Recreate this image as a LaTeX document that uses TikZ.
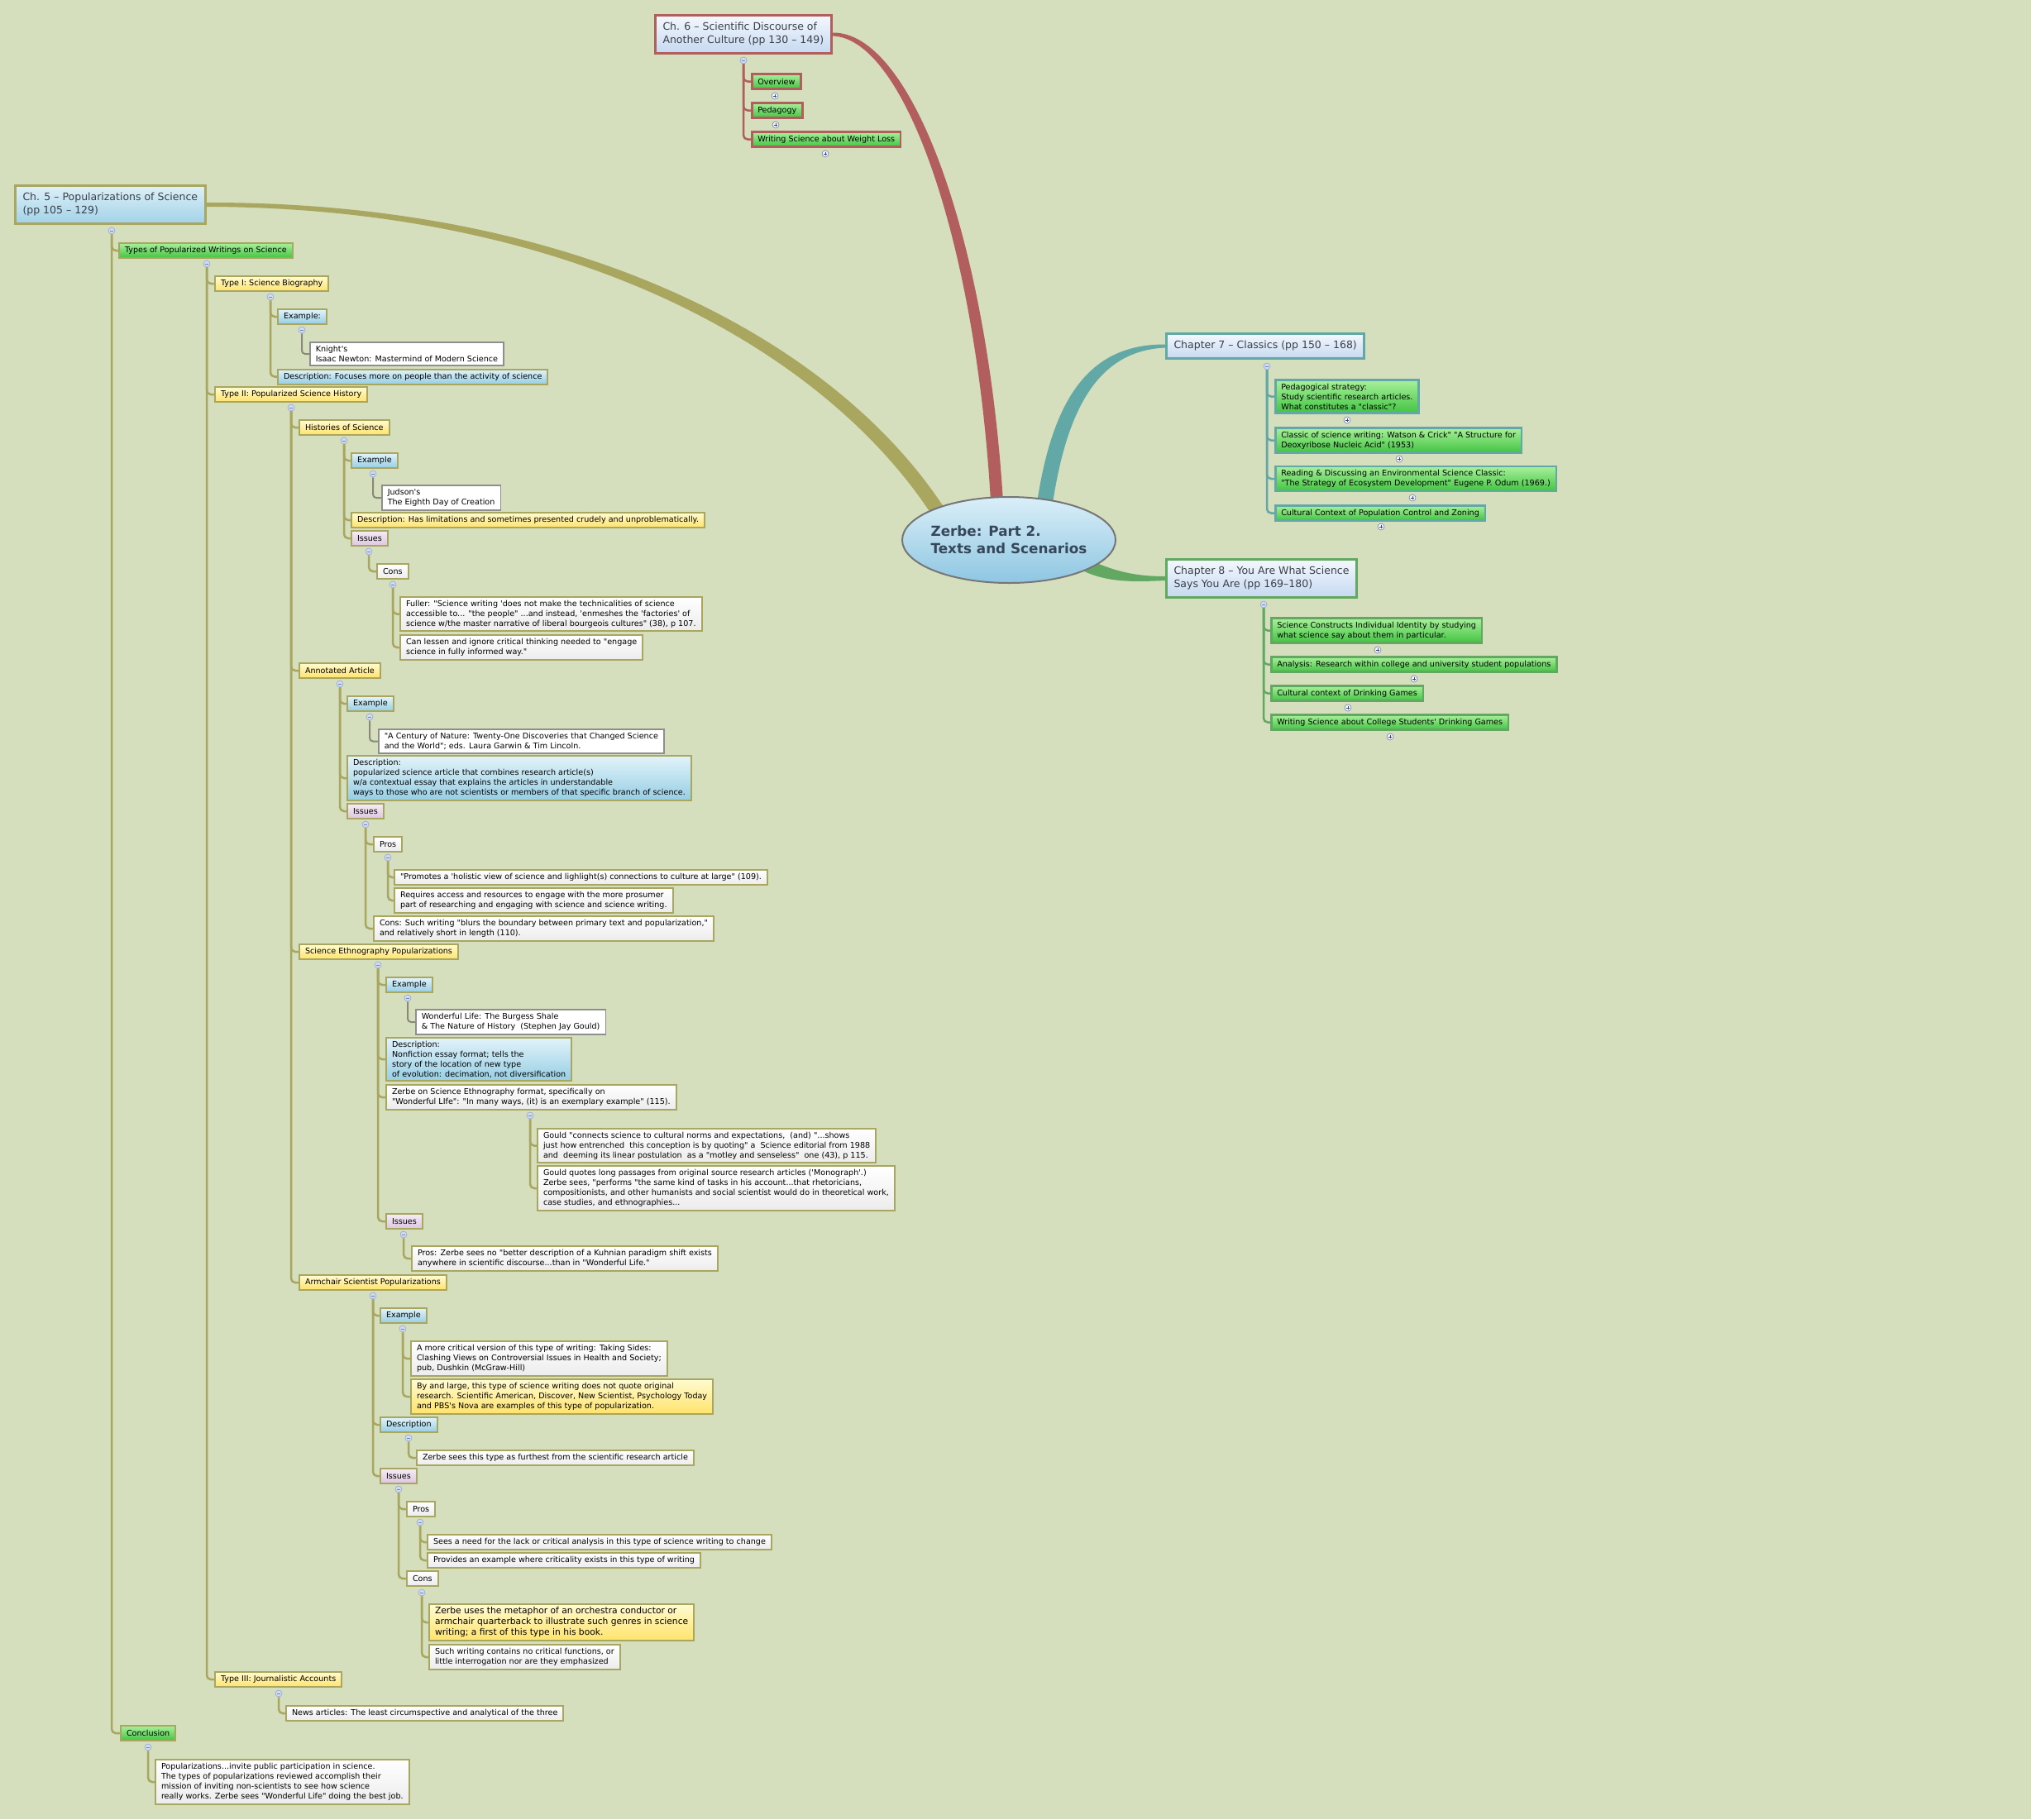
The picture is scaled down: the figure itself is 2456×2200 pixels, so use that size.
\documentclass[tikz,border=0pt]{standalone}
\usepackage{fontspec}
\newfontfamily\dv{DejaVu Sans}
\usetikzlibrary{shapes.geometric,calc}
\pgfdeclarelayer{bg}
\pgfdeclarelayer{lines}
\pgfsetlayers{bg,lines,main}
\definecolor{bgc}{HTML}{D5DFBD}
\definecolor{olv}{HTML}{A9A65F}
\definecolor{red6}{HTML}{B25E5E}
\definecolor{teal7}{HTML}{62A8A6}
\definecolor{grn8}{HTML}{62A862}
\definecolor{gryb}{HTML}{8E8E8E}
\definecolor{gryc}{HTML}{878A76}
\definecolor{gtop}{HTML}{A8F09A}
\definecolor{gbot}{HTML}{42C442}
\definecolor{ytop}{HTML}{FFFBD2}
\definecolor{ybot}{HTML}{FFE36A}
\definecolor{btop}{HTML}{E2F3FA}
\definecolor{bbot}{HTML}{96CEE4}
\definecolor{ptop}{HTML}{F5ECF5}
\definecolor{pbot}{HTML}{DCC6E0}
\definecolor{wbot}{HTML}{ECECEC}
\definecolor{chtop}{HTML}{F4F8FE}
\definecolor{chbot}{HTML}{C6D9F0}
\definecolor{cvtop}{HTML}{DDF0F8}
\definecolor{cvbot}{HTML}{A2D2E8}
\definecolor{chtext}{HTML}{3A4048}
\definecolor{roottext}{HTML}{37475A}
\definecolor{rtop}{HTML}{DAEFF8}
\definecolor{rbot}{HTML}{8EC6E2}
\definecolor{rborder}{HTML}{767676}
\definecolor{mfill}{HTML}{D0DAF0}
\definecolor{mdraw}{HTML}{94A6D2}
\definecolor{mline}{HTML}{6F86BE}
\definecolor{pfill}{HTML}{F4F6FA}
\definecolor{pdraw}{HTML}{6E7FB0}
\definecolor{pline}{HTML}{3A4A80}
\begin{document}
\begin{tikzpicture}[x=1pt,y=-1pt,
  box/.style={draw=olv, line width=2pt, align=left, anchor=west, inner xsep=7pt, inner ysep=4.2pt, minimum height=18pt, font=\dv\fontsize{9.6}{12}\selectfont, text=black},
  gbox/.style={box, top color=gtop, bottom color=gbot},
  ybox/.style={box, top color=ytop, bottom color=ybot},
  bbox/.style={box, top color=btop, bottom color=bbot},
  pbox/.style={box, top color=ptop, bottom color=pbot},
  wbox/.style={box, top color=white, bottom color=wbot},
  xbox/.style={box, fill=white, draw=gryb, line width=1.5pt},
  bigtext/.style={font=\dv\fontsize{10.7}{13}\selectfont},
  chap/.style={draw, line width=3pt, align=left, anchor=west, inner xsep=9pt, inner ysep=8.7pt, font=\dv\fontsize{12.5}{16}\selectfont, text=chtext, top color=chtop, bottom color=chbot},
  root/.style={ellipse, draw=rborder, line width=2pt, top color=rtop, bottom color=rbot, minimum width=258pt, minimum height=104pt, inner xsep=-4pt, inner ysep=0pt, align=left, font=\dv\bfseries\fontsize{16.8}{21}\selectfont, text=roottext},
  mcirc/.style={circle, line width=0.6pt, minimum size=8pt, inner sep=0pt},
  minus/.style={mcirc, draw=mdraw, fill=mfill, path picture={\draw[mline, line width=0.9pt] ([xshift=-2.2pt]path picture bounding box.center) -- ([xshift=2.2pt]path picture bounding box.center);}},
  plus/.style={mcirc, draw=pdraw, fill=pfill, path picture={\draw[pline, line width=0.7pt] ([xshift=-2.2pt]path picture bounding box.center) -- ([xshift=2.2pt]path picture bounding box.center) ([yshift=-2.2pt]path picture bounding box.center) -- ([yshift=2.2pt]path picture bounding box.center);}},
  l5/.style={draw=olv, line width=2.5pt, rounded corners=5pt},
  lg/.style={draw=gryc, line width=2pt, rounded corners=4pt},
  l6/.style={draw=red6, line width=2.5pt, rounded corners=5pt},
  l7/.style={draw=teal7, line width=2.5pt, rounded corners=5pt},
  l8/.style={draw=grn8, line width=2.5pt, rounded corners=5pt}
]
\useasboundingbox (0,0) rectangle (2456,2200);
\begin{pgfonlayer}{bg}
\fill[bgc] (0,0) rectangle (2456,2200);
\end{pgfonlayer}

% ---------- root ----------
\node[root] (root) at (1220,653) {Zerbe: Part 2.\\Texts and Scenarios};

% ---------- chapter 6 ----------
\node[chap, draw=red6] (ch6) at (791,41.5) {Ch. 6 – Scientific Discourse of\\Another Culture (pp 130 – 149)};
\node[gbox, draw=red6, line width=2.5pt] (c6a) at (908,98.5) {Overview};
\node[gbox, draw=red6, line width=2.5pt] (c6b) at (908,133.5) {Pedagogy};
\node[gbox, draw=red6, line width=2.5pt] (c6c) at (908,168.5) {Writing Science about Weight Loss};
\node[minus] (m6) at (899,73) {};
\node[plus] (p6a) at (937,116) {};
\node[plus] (p6b) at (938,151) {};
\node[plus] (p6c) at (998,186) {};

% ---------- chapter 7 ----------
\node[chap, draw=teal7] (ch7) at (1409,418.5) {Chapter 7 – Classics (pp 150 – 168)};
\node[gbox, draw=teal7, line width=2.5pt] (c7a) at (1541,479.5) {Pedagogical strategy:\\Study scientific research articles.\\What constitutes a "classic"?};
\node[gbox, draw=teal7, line width=2.5pt] (c7b) at (1541,532.5) {Classic of science writing: Watson \& Crick" "A Structure for\\Deoxyribose Nucleic Acid" (1953)};
\node[gbox, draw=teal7, line width=2.5pt] (c7c) at (1541,579) {Reading \& Discussing an Environmental Science Classic:\\"The Strategy of Ecosystem Development" Eugene P. Odum (1969.)};
\node[gbox, draw=teal7, line width=2.5pt] (c7d) at (1541,620.5) {Cultural Context of Population Control and Zoning};
\node[minus] (m7) at (1532,443) {};
\node[plus] (p7a) at (1629,508) {};
\node[plus] (p7b) at (1692,555) {};
\node[plus] (p7c) at (1708,602) {};
\node[plus] (p7d) at (1670,637) {};

% ---------- chapter 8 ----------
\node[chap, draw=grn8] (ch8) at (1409,699.5) {Chapter 8 – You Are What Science\\Says You Are (pp 169–180)};
\node[gbox, draw=grn8, line width=2.5pt] (c8a) at (1536,762.5) {Science Constructs Individual Identity by studying\\what science say about them in particular.};
\node[gbox, draw=grn8, line width=2.5pt] (c8b) at (1536,803.5) {Analysis: Research within college and university student populations};
\node[gbox, draw=grn8, line width=2.5pt] (c8c) at (1536,838.5) {Cultural context of Drinking Games};
\node[gbox, draw=grn8, line width=2.5pt] (c8d) at (1536,873.5) {Writing Science about College Students' Drinking Games};
\node[minus] (m8) at (1528,731) {};
\node[plus] (p8a) at (1666,786) {};
\node[plus] (p8b) at (1710,821) {};
\node[plus] (p8c) at (1630,856) {};
\node[plus] (p8d) at (1681,891) {};

% ---------- chapter 5 ----------
\node[chap, draw=olv, top color=cvtop, bottom color=cvbot] (ch5) at (17,247.5) {Ch. 5 – Popularizations of Science\\(pp 105 – 129)};
\node[gbox] (types) at (143,303) {Types of Popularized Writings on Science};
\node[ybox] (t1) at (259,343) {Type I: Science Biography};
\node[bbox] (t1ex) at (335,383) {Example:};
\node[xbox] (knight) at (374,428) {Knight's\\Isaac Newton: Mastermind of Modern Science};
\node[bbox] (t1desc) at (335,455.5) {Description: Focuses more on people than the activity of science};
\node[ybox] (t2) at (259,477) {Type II: Popularized Science History};
\node[ybox] (hist) at (361,517) {Histories of Science};
\node[bbox] (hex) at (424,557) {Example};
\node[xbox] (judson) at (461,602) {Judson's\\The Eighth Day of Creation};
\node[ybox] (hdesc) at (424,629) {Description: Has limitations and sometimes presented crudely and unproblematically.};
\node[pbox] (hiss) at (424,651) {Issues};
\node[wbox] (hcons) at (455,691) {Cons};
\node[wbox] (fuller) at (483,742.5) {Fuller: "Science writing 'does not make the technicalities of science\\accessible to... "the people" ...and instead, 'enmeshes the 'factories' of\\science w/the master narrative of liberal bourgeois cultures" (38), p 107.};
\node[wbox] (lessen) at (483,783) {Can lessen and ignore critical thinking needed to "engage\\science in fully informed way."};
\node[ybox] (annot) at (361,811) {Annotated Article};
\node[bbox] (aex) at (419,851) {Example};
\node[xbox] (century) at (457,896.5) {"A Century of Nature: Twenty-One Discoveries that Changed Science\\and the World"; eds. Laura Garwin \& Tim Lincoln.};
\node[bbox] (adesc) at (419,941) {Description:\\popularized science article that combines research article(s)\\w/a contextual essay that explains the articles in understandable\\ways to those who are not scientists or members of that specific branch of science.};
\node[pbox] (aiss) at (419,981) {Issues};
\node[wbox] (apros) at (451,1021) {Pros};
\node[wbox] (promotes) at (476,1061) {"Promotes a 'holistic view of science and lighlight(s) connections to culture at large" (109).};
\node[wbox] (requires) at (476,1089) {Requires access and resources to engage with the more prosumer\\part of researching and engaging with science and science writing.};
\node[wbox] (acons) at (451,1123) {Cons: Such writing "blurs the boundary between primary text and popularization,"\\and relatively short in length (110).};
\node[ybox] (ethno) at (361,1151) {Science Ethnography Popularizations};
\node[bbox] (eex) at (466,1191) {Example};
\node[xbox] (wonder) at (502,1236) {Wonderful Life: The Burgess Shale\\\& The Nature of History\ \ (Stephen Jay Gould)};
\node[bbox] (edesc) at (466,1281) {Description:\\Nonfiction essay format; tells the\\story of the location of new type\\of evolution: decimation, not diversification};
\node[wbox] (ezerbe) at (466,1327) {Zerbe on Science Ethnography format, specifically on\\"Wonderful LIfe": "In many ways, (it) is an exemplary example" (115).};
\node[wbox] (gould1) at (649,1385.5) {Gould "connects science to cultural norms and expectations,\ \ (and) "...shows\\just how entrenched\ \ this conception is by quoting" a\ \ Science editorial from 1988\\and\ \ deeming its linear postulation\ \ as a "motley and senseless"\ \ one (43), p 115.};
\node[wbox] (gould2) at (649,1437) {Gould quotes long passages from original source research articles ('Monograph'.)\\Zerbe sees, "performs "the same kind of tasks in his account...that rhetoricians,\\compositionists, and other humanists and social scientist would do in theoretical work,\\case studies, and ethnographies...};
\node[pbox] (eiss) at (466,1477) {Issues};
\node[wbox] (epros) at (497,1522) {Pros: Zerbe sees no "better description of a Kuhnian paradigm shift exists\\anywhere in scientific discourse...than in "Wonderful Life."};
\node[ybox] (arm) at (361,1551) {Armchair Scientist Popularizations};
\node[bbox] (armex) at (459,1591) {Example};
\node[wbox] (critical) at (496,1643) {A more critical version of this type of writing: Taking Sides:\\Clashing Views on Controversial Issues in Health and Society;\\pub, Dushkin (McGraw-Hill)};
\node[ybox] (bylarge) at (496,1689) {By and large, this type of science writing does not quote original\\research. Scientific American, Discover, New Scientist, Psychology Today\\and PBS's Nova are examples of this type of popularization.};
\node[bbox] (armdesc) at (459,1723) {Description};
\node[wbox] (furthest) at (503,1763) {Zerbe sees this type as furthest from the scientific research article};
\node[pbox] (armiss) at (459,1785) {Issues};
\node[wbox] (armpros) at (491,1825) {Pros};
\node[wbox] (need) at (516,1865) {Sees a need for the lack or critical analysis in this type of science writing to change};
\node[wbox] (provides) at (516,1887) {Provides an example where criticality exists in this type of writing};
\node[wbox] (armcons) at (491,1909) {Cons};
\node[ybox, bigtext] (metaphor) at (518,1962) {Zerbe uses the metaphor of an orchestra conductor or\\armchair quarterback to illustrate such genres in science\\writing; a first of this type in his book.};
\node[wbox] (nocrit) at (518,2004) {Such writing contains no critical functions, or\\little interrogation nor are they emphasized};
\node[ybox] (t3) at (259,2031) {Type III: Journalistic Accounts};
\node[wbox] (news) at (345,2072) {News articles: The least circumspective and analytical of the three};
\node[gbox] (concl) at (145,2096) {Conclusion};
\node[wbox] (popul) at (187,2155) {Popularizations...invite public participation in science.\\The types of popularizations reviewed accomplish their\\mission of inviting non-scientists to see how science\\really works. Zerbe sees "Wonderful Life" doing the best job.};

% minus circles of chapter 5
\node[minus] (m5) at (135,279) {};
\node[minus] (mt) at (250,319) {};
\node[minus] (mt1) at (327,359) {};
\node[minus] (mt1ex) at (365,399) {};
\node[minus] (mt2) at (352,493) {};
\node[minus] (mhist) at (416,533) {};
\node[minus] (mhex) at (451,573) {};
\node[minus] (mhiss) at (446,667) {};
\node[minus] (mhcons) at (475,707) {};
\node[minus] (mannot) at (411,827) {};
\node[minus] (maex) at (447,867) {};
\node[minus] (maiss) at (442,997) {};
\node[minus] (mapros) at (469,1037) {};
\node[minus] (methno) at (457,1167) {};
\node[minus] (meex) at (493,1207) {};
\node[minus] (mezerbe) at (641,1349) {};
\node[minus] (meiss) at (488,1493) {};
\node[minus] (marm) at (451,1567) {};
\node[minus] (marmex) at (487,1607) {};
\node[minus] (marmdesc) at (494,1739) {};
\node[minus] (marmiss) at (482,1801) {};
\node[minus] (marmpros) at (508,1841) {};
\node[minus] (marmcons) at (510,1926) {};
\node[minus] (mt3) at (337,2048) {};
\node[minus] (mconcl) at (179,2113) {};

\begin{pgfonlayer}{lines}
% tapered main branches
\fill[olv] ($(ch5.east)+(0,-2.5)$) .. controls (705,244) and (1007,415) .. (1137,607) -- (1152,628) -- (1138,638) -- (1123,617) .. controls (994,425) and (697,251) .. ($(ch5.east)+(0,2.5)$) -- cycle;
\fill[red6] ($(ch6.east)+(0,-2)$) .. controls (1105,38) and (1197,300) .. (1214,625) -- (1199,625) .. controls (1183,300) and (1095,46) .. ($(ch6.east)+(0,2)$) -- cycle;
\fill[teal7] (1253,615) .. controls (1272,480) and (1318,416) .. ($(ch7.west)+(0,-2)$) -- ($(ch7.west)+(0,2)$) .. controls (1330,424) and (1290,490) .. (1272,615) -- cycle;
\fill[grn8] (1300,668) .. controls (1340,690) and (1370,697) .. ($(ch8.west)+(0,-2.5)$) -- ($(ch8.west)+(0,2.5)$) .. controls (1365,704) and (1330,705) .. (1295,682) -- cycle;

% chapter 6/7/8 connectors
\foreach \c in {c6a,c6b,c6c} \draw[l6] (m6) |- (\c.west);
\foreach \c in {c7a,c7b,c7c,c7d} \draw[l7] (m7) |- (\c.west);
\foreach \c in {c8a,c8b,c8c,c8d} \draw[l8] (m8) |- (\c.west);

% chapter 5 connectors
\foreach \c in {types,concl} \draw[l5] (m5) |- (\c.west);
\foreach \c in {t1,t2,t3} \draw[l5] (mt) |- (\c.west);
\foreach \c in {t1ex,t1desc} \draw[l5] (mt1) |- (\c.west);
\draw[lg] (mt1ex) |- (knight.west);
\foreach \c in {hist,annot,ethno,arm} \draw[l5] (mt2) |- (\c.west);
\foreach \c in {hex,hdesc,hiss} \draw[l5] (mhist) |- (\c.west);
\draw[lg] (mhex) |- (judson.west);
\draw[l5] (mhiss) |- (hcons.west);
\foreach \c in {fuller,lessen} \draw[l5] (mhcons) |- (\c.west);
\foreach \c in {aex,adesc,aiss} \draw[l5] (mannot) |- (\c.west);
\draw[lg] (maex) |- (century.west);
\foreach \c in {apros,acons} \draw[l5] (maiss) |- (\c.west);
\foreach \c in {promotes,requires} \draw[l5] (mapros) |- (\c.west);
\foreach \c in {eex,edesc,ezerbe,eiss} \draw[l5] (methno) |- (\c.west);
\draw[lg] (meex) |- (wonder.west);
\foreach \c in {gould1,gould2} \draw[l5] (mezerbe) |- (\c.west);
\draw[l5] (meiss) |- (epros.west);
\foreach \c in {armex,armdesc,armiss} \draw[l5] (marm) |- (\c.west);
\foreach \c in {critical,bylarge} \draw[l5] (marmex) |- (\c.west);
\draw[l5] (marmdesc) |- (furthest.west);
\foreach \c in {armpros,armcons} \draw[l5] (marmiss) |- (\c.west);
\foreach \c in {need,provides} \draw[l5] (marmpros) |- (\c.west);
\foreach \c in {metaphor,nocrit} \draw[l5] (marmcons) |- (\c.west);
\draw[l5] (mt3) |- (news.west);
\draw[l5] (mconcl) |- (popul.west);
\end{pgfonlayer}
\end{tikzpicture}
\end{document}
